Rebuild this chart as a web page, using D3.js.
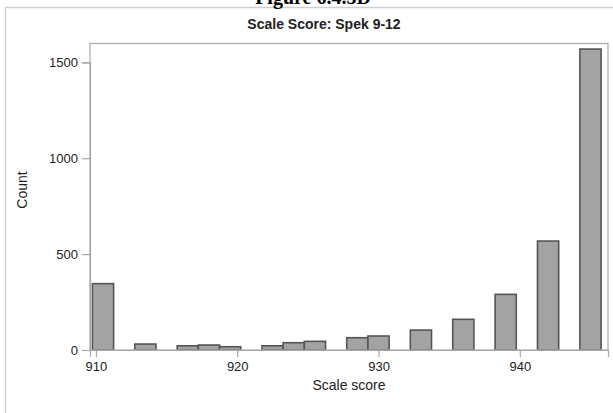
<!DOCTYPE html>
<html>
<head>
<meta charset="utf-8">
<script src="https://cdn.jsdelivr.net/npm/d3@7"></script>
<style>
  html, body { margin: 0; padding: 0; background: #fff; }
  svg { display: block; }
</style>
</head>
<body>
<svg id="chart" width="613" height="413"></svg>
<script>
// Histogram bins (midpoints) that hold scores, with their counts
const binMids = [910.5, 913.5, 916.5, 918, 919.5, 922.5, 924, 925.5, 928.5, 930, 933, 936, 939, 942, 945];
const counts  = [346, 31, 22, 26, 17, 22, 38, 45, 64, 73, 104, 160, 290, 568, 1569];
const binWidth = 1.5;
const xTicks = [910, 920, 930, 940];
const yTicks = [0, 500, 1000, 1500];

const svg = d3.select("#chart");
const plot = { left: 90, right: 608, top: 43.5, bottom: 350 };

const x = d3.scaleLinear().domain([909.58, 946.24]).range([plot.left, plot.right]);
const y = d3.scaleLinear().domain([0, 1500]).range([plot.bottom, 62.3]);

// outer border of the figure panel
svg.append("rect")
  .attr("x", 5.5).attr("y", 7.5).attr("width", 620).attr("height", 420)
  .attr("fill", "none").attr("stroke", "#cfcfcf").attr("stroke-width", 1.5);

// figure caption above the panel (runs past the top edge of the page)
svg.append("text")
  .attr("x", 313).attr("y", 4)
  .attr("text-anchor", "middle")
  .attr("font-family", "Liberation Serif, Times New Roman, serif")
  .attr("font-weight", "bold").attr("font-size", 20)
  .attr("fill", "#000")
  .text("Figure 6.4.5D");

// chart title
svg.append("text")
  .attr("x", 324).attr("y", 29)
  .attr("text-anchor", "middle")
  .attr("font-family", "Liberation Sans, Arial, sans-serif")
  .attr("font-weight", "bold").attr("font-size", 14)
  .attr("fill", "#222")
  .text("Scale Score: Spek 9-12");

// bars
svg.append("g").selectAll("rect")
  .data(binMids.map((m, i) => ({ m, c: counts[i] })))
  .join("rect")
  .attr("x", d => x(d.m - binWidth / 2))
  .attr("y", d => y(d.c))
  .attr("width", d => x(d.m + binWidth / 2) - x(d.m - binWidth / 2))
  .attr("height", d => y(0) - y(d.c))
  .attr("fill", "#a3a3a3")
  .attr("stroke", "#555")
  .attr("stroke-width", 1.6);

// plot frame
svg.append("rect")
  .attr("x", plot.left).attr("y", plot.top)
  .attr("width", plot.right - plot.left).attr("height", plot.bottom - plot.top)
  .attr("fill", "none").attr("stroke", "#a8a8a8").attr("stroke-width", 1.2);

// axes
const xAxis = svg.append("g")
  .attr("transform", `translate(0,${plot.bottom})`)
  .call(d3.axisBottom(x).tickValues(xTicks).tickFormat(d3.format("d")).tickSize(7).tickPadding(5));
const yAxis = svg.append("g")
  .attr("transform", `translate(${plot.left},0)`)
  .call(d3.axisLeft(y).tickValues(yTicks).tickFormat(d3.format("d")).tickSize(8).tickPadding(4));

[xAxis, yAxis].forEach(a => {
  a.select(".domain").attr("stroke", "#a8a8a8").attr("stroke-width", 1.2);
  a.selectAll(".tick line").attr("stroke", "#a8a8a8").attr("stroke-width", 1.2);
  a.selectAll(".tick text")
    .attr("font-family", "Liberation Sans, Arial, sans-serif")
    .attr("font-size", 13).attr("fill", "#222");
});

// axis titles
svg.append("text")
  .attr("x", 349).attr("y", 390)
  .attr("text-anchor", "middle")
  .attr("font-family", "Liberation Sans, Arial, sans-serif")
  .attr("font-size", 14).attr("fill", "#222")
  .text("Scale score");

svg.append("text")
  .attr("transform", "translate(27,190) rotate(-90)")
  .attr("text-anchor", "middle")
  .attr("font-family", "Liberation Sans, Arial, sans-serif")
  .attr("font-size", 14).attr("fill", "#222")
  .text("Count");
</script>
</body>
</html>
